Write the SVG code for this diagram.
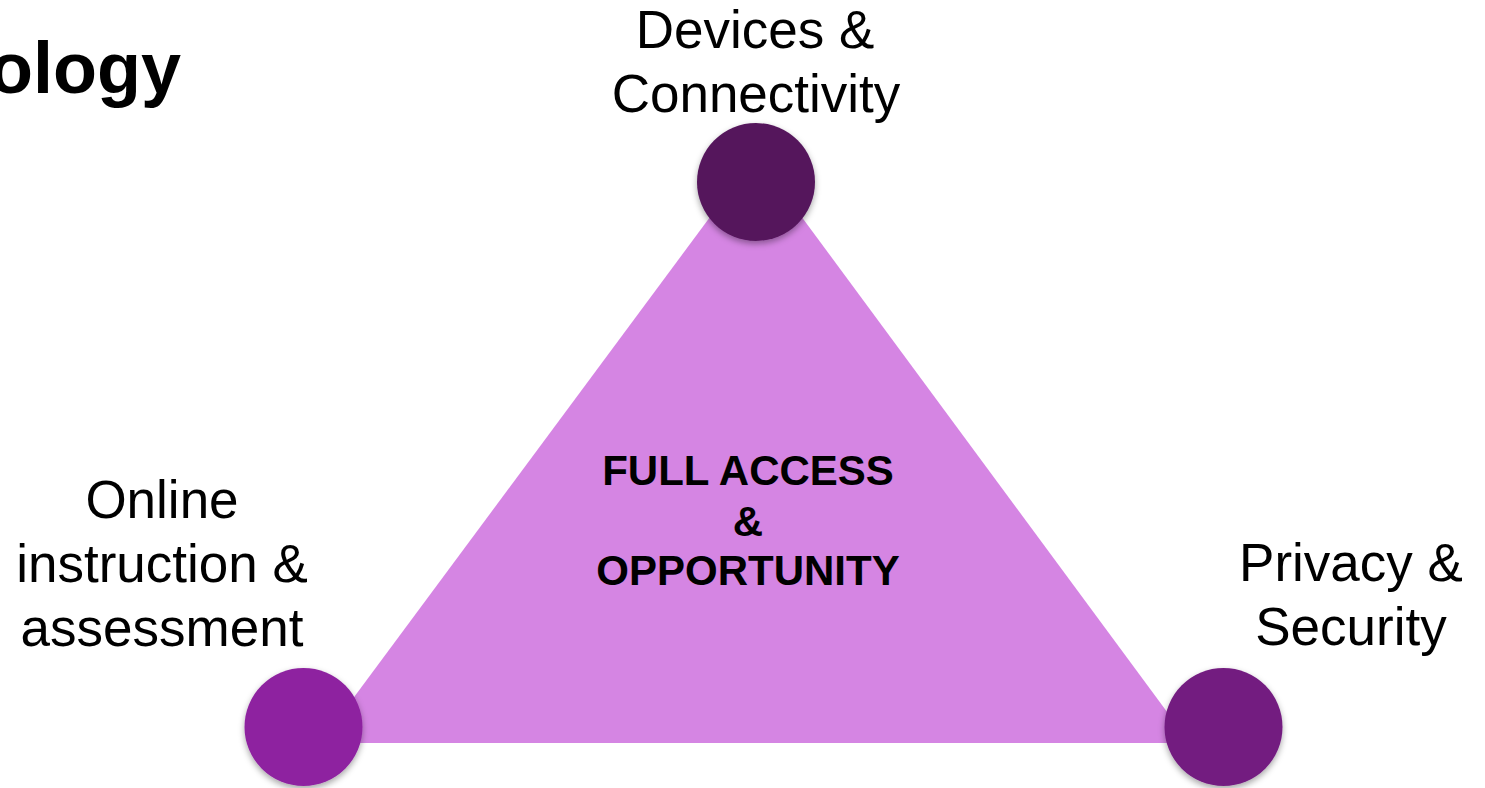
<svg xmlns="http://www.w3.org/2000/svg" width="1485" height="788" viewBox="0 0 1485 788">
<defs>
<style>
.lbl{font-family:"Liberation Sans",Arial,sans-serif;font-size:53px;fill:#000;text-anchor:middle}
.ctr{font-family:"Liberation Sans",Arial,sans-serif;font-size:42px;font-weight:bold;fill:#000;text-anchor:middle}
.ttl{font-family:"Liberation Sans",Arial,sans-serif;font-size:72px;font-weight:bold;fill:#000;text-anchor:end}
</style>
<filter id="sh" x="-20%" y="-20%" width="140%" height="150%">
<feDropShadow dx="0" dy="3" stdDeviation="3" flood-color="#000" flood-opacity="0.35"/>
</filter>
</defs>
<rect width="1485" height="788" fill="#fff"/>
<text class="ttl" x="181" y="93">ology</text>
<g id="connectors">
<polygon id="triangle" points="756,155 320,743 1190,743" fill="#D585E3"/>
</g>
<g id="center">
<text class="ctr" x="748" y="485">FULL ACCESS</text>
<text class="ctr" x="748" y="536">&amp;</text>
<text class="ctr" x="748" y="585">OPPORTUNITY</text>
</g>
<g id="node-devices">
<circle cx="756" cy="182" r="59" fill="#55165C" filter="url(#sh)"/>
<text class="lbl" x="755" y="48">Devices &amp;</text>
<text class="lbl" x="756" y="112">Connectivity</text>
</g>
<g id="node-online">
<circle cx="303.5" cy="727" r="59" fill="#8E24A0" filter="url(#sh)"/>
<text class="lbl" x="162" y="518">Online</text>
<text class="lbl" x="162" y="582">instruction &amp;</text>
<text class="lbl" x="162" y="646">assessment</text>
</g>
<g id="node-privacy">
<circle cx="1223.5" cy="727" r="59" fill="#731C80" filter="url(#sh)"/>
<text class="lbl" x="1351" y="581">Privacy &amp;</text>
<text class="lbl" x="1351" y="645">Security</text>
</g>
</svg>
